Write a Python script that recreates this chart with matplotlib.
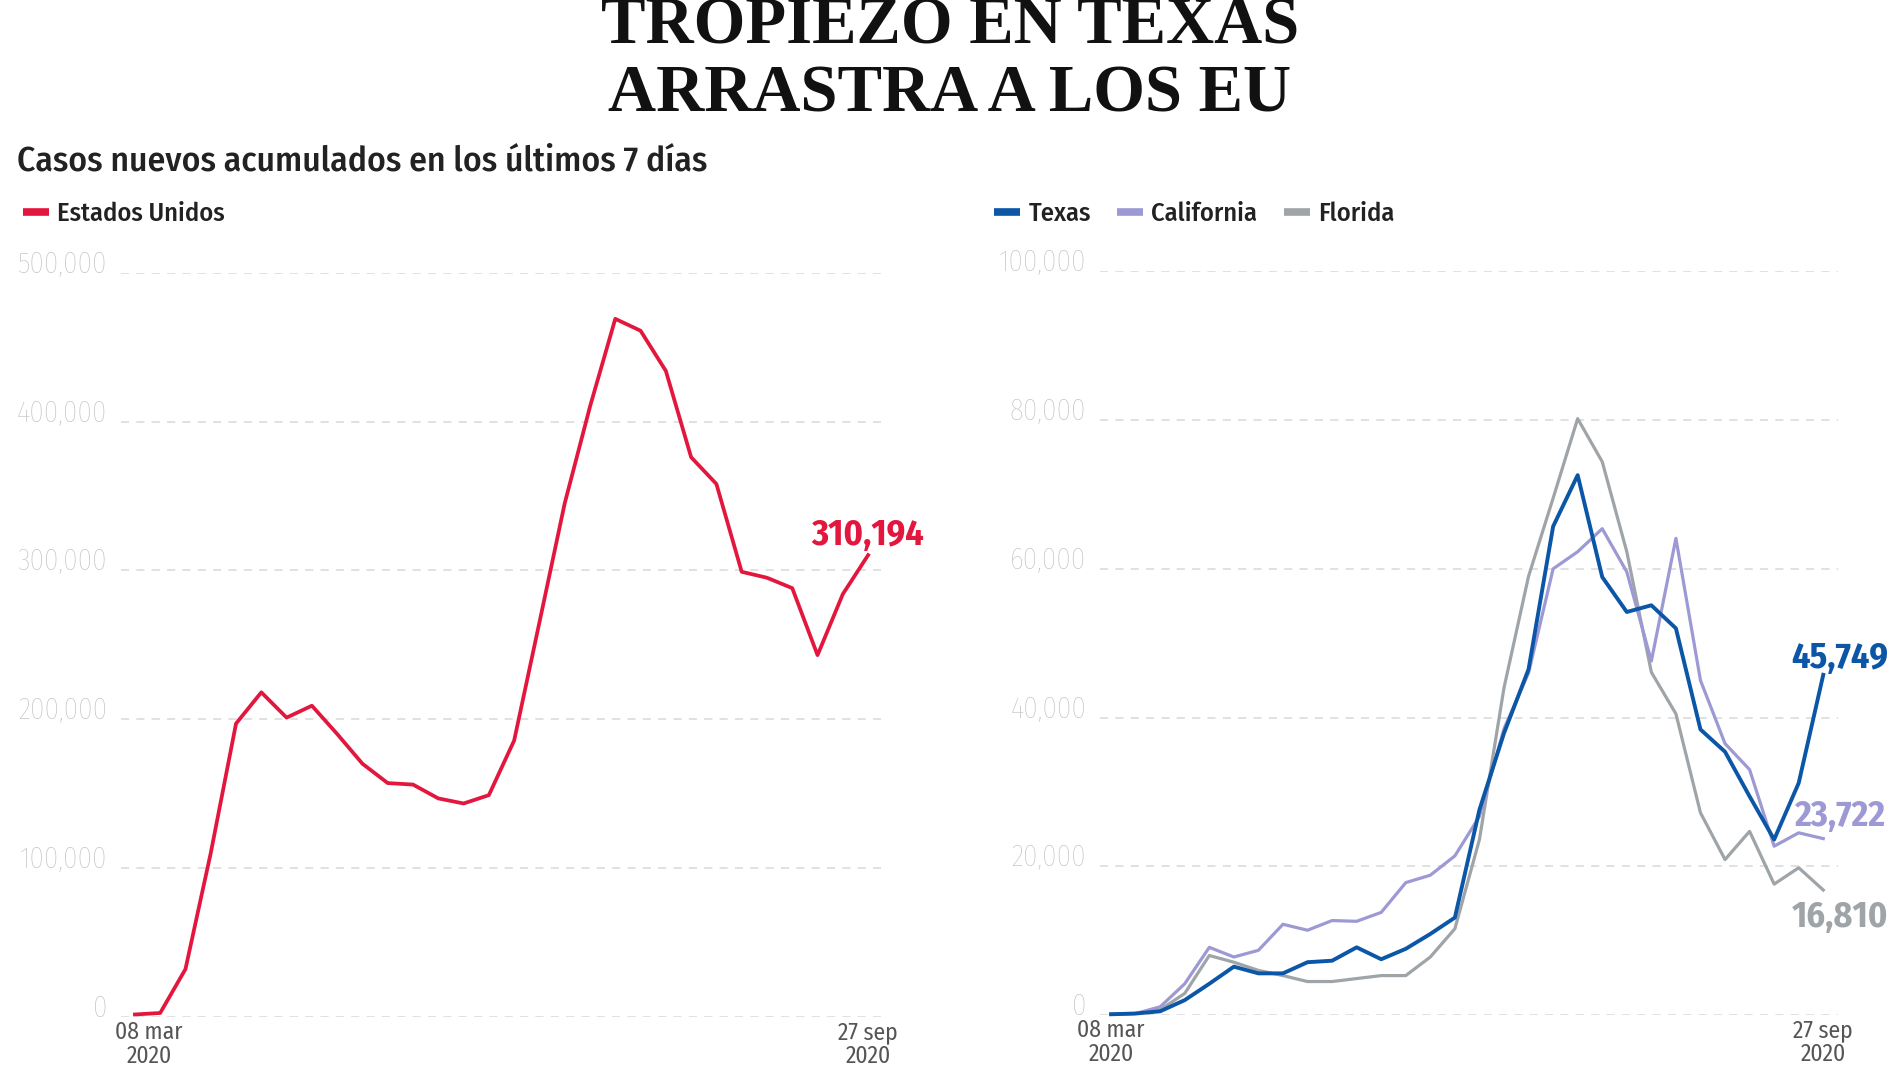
import matplotlib
matplotlib.use("Agg")
import matplotlib.pyplot as plt
from matplotlib import font_manager
from matplotlib.transforms import ScaledTranslation

# semanas desde 08 mar 2020 hasta 27 sep 2020
x_labels = ["08 mar\n2020", "27 sep\n2020"]

estados_unidos = [1500, 2500, 32000, 110000, 197000, 218000, 201000, 209000, 190000, 170000,
                  157000, 156000, 146700, 143300, 148900, 185600, 265000, 345000, 410000, 469000,
                  461000, 434000, 376000, 358000, 299000, 295000, 288000, 243000, 284000, 310194]

texas = [100, 200, 500, 2000, 4200, 6500, 5600, 5600, 7100, 7300,
         9100, 7500, 8900, 10900, 13100, 27600, 37900, 46500, 65700, 72600,
         58900, 54200, 55100, 52000, 38400, 35400, 29400, 23600, 31200, 45749]
california = [100, 200, 1100, 4200, 9100, 7800, 8700, 12200, 11400, 12700,
              12600, 13800, 17800, 18800, 21400, 26700, 38500, 46000, 60000, 62300,
              65400, 59600, 47600, 64100, 45000, 36500, 33000, 22700, 24500, 23722]
florida = [100, 200, 700, 2900, 8000, 7100, 6000, 5300, 4500, 4500,
           4900, 5300, 5300, 7800, 11600, 23600, 44000, 59000, 69500, 80200,
           74400, 62300, 46100, 40500, 27200, 20900, 24700, 17600, 19800, 16810]

yticks_us = [0, 100000, 200000, 300000, 400000, 500000]
yticks_st = [0, 20000, 40000, 60000, 80000, 100000]

ROJO = "#e3173e"
AZUL = "#0b56a6"
MORADO = "#9c99d4"
GRIS = "#9ea4a7"

names = set(f.name for f in font_manager.fontManager.ttflist)

def pick(cands):
    for c in cands:
        if c in names:
            return c
    return "DejaVu Sans"

sans = pick(["Fira Sans Condensed", "Roboto Condensed", "Roboto"])
serif = pick(["Liberation Serif", "DejaVu Serif"])

W, H = 1900, 1068
fig = plt.figure(figsize=(19, 10.68), dpi=100)

def box(x0, y0, x1, y1):
    return [x0 / W, 1 - y1 / H, (x1 - x0) / W, (y1 - y0) / H]

axL = fig.add_axes(box(121, 272.7, 881, 1016.7))
axR = fig.add_axes(box(1100, 271.4, 1838, 1015))

def style(ax, yt, xmax_pad, xmin_pad):
    n = 30
    ax.set_xlim(-xmin_pad, n - 1 + xmax_pad)
    ax.set_ylim(0, yt[-1])
    for s in ax.spines.values():
        s.set_visible(False)
    for v in yt:
        ax.axhline(v, color="#dedede", lw=1.3, ls=(0, (4.5, 4)), zorder=0)
    ax.set_yticks(yt)
    ax.set_yticklabels([f"{v:,}" for v in yt], fontsize=21, color="#bdbdbd",
                       family=sans, fontweight="light", va="baseline")
    ax.set_xticks([0, n - 1])
    ax.set_xticklabels(x_labels, fontsize=17, color="#555555", family=sans,
                       linespacing=1.02)
    ax.tick_params(length=0, axis="y", pad=10)
    ax.tick_params(length=0, axis="x", pad=3)

style(axL, yticks_us, 0.51, 0.55)
style(axR, yticks_st, 0.6, 0.45)

# el primer rótulo del panel izquierdo está algo corrido a la derecha
first = axL.get_xticklabels()[0]
first.set_transform(first.get_transform() + ScaledTranslation(14 / 100, 0, fig.dpi_scale_trans))

weeks = list(range(len(estados_unidos)))
axL.plot(weeks, estados_unidos, color=ROJO, lw=2.7, label="Estados Unidos", clip_on=False)
axR.plot(weeks, florida, color=GRIS, lw=2.3, label="Florida", clip_on=False, zorder=2)
axR.plot(weeks, california, color=MORADO, lw=2.3, label="California", clip_on=False, zorder=3)
axR.plot(weeks, texas, color=AZUL, lw=2.8, label="Texas", clip_on=False, zorder=4)

lab = dict(fontsize=26, fontweight="bold", family=sans, textcoords="offset points")
axL.annotate(f"{estados_unidos[-1]:,}", (weeks[-1], estados_unidos[-1]), xytext=(0, 7),
             ha="center", va="baseline", color=ROJO, **lab)
axR.annotate(f"{texas[-1]:,}", (weeks[-1], texas[-1]), xytext=(12, 5),
             ha="center", va="baseline", color=AZUL, **lab)
axR.annotate(f"{california[-1]:,}", (weeks[-1], california[-1]), xytext=(12, 9),
             ha="center", va="baseline", color=MORADO, **lab)
axR.annotate(f"{florida[-1]:,}", (weeks[-1], florida[-1]), xytext=(12, -7),
             ha="center", va="top", color=GRIS, **lab)

leg = dict(frameon=False, handlelength=1.0, handletextpad=0.3, columnspacing=1.0,
           prop={"family": sans, "size": 19, "weight": "medium"}, borderpad=0, borderaxespad=0)
lL = axL.legend(loc="center left", bbox_to_anchor=(23 / W, 1 - 214 / H),
                bbox_transform=fig.transFigure, **leg)
h, l = axR.get_legend_handles_labels()
order = [2, 1, 0]
lR = axR.legend([h[i] for i in order], [l[i] for i in order], ncol=3, loc="center left",
                bbox_to_anchor=(994 / W, 1 - 214 / H), bbox_transform=fig.transFigure, **leg)
for lg in (lL, lR):
    for hl in lg.get_lines():
        hl.set_linewidth(5.5)
        hl.set_solid_capstyle("butt")
    for t in lg.get_texts():
        t.set_color("#222222")

fig.text(17 / W, 1 - 161 / H, "Casos nuevos acumulados en los últimos 7 días",
         fontsize=25.5, family=sans, fontweight="medium", color="#222222", va="center")
fig.text(0.5, 1 - 44 / H, "TROPIEZO EN TEXAS", fontsize=48, family=serif,
         fontweight="bold", ha="center", va="baseline", color="#111111")
fig.text(0.5, 1 - 112 / H, "ARRASTRA A LOS EU", fontsize=48, family=serif,
         fontweight="bold", ha="center", va="baseline", color="#111111")

fig.savefig("out.png", dpi=100)
